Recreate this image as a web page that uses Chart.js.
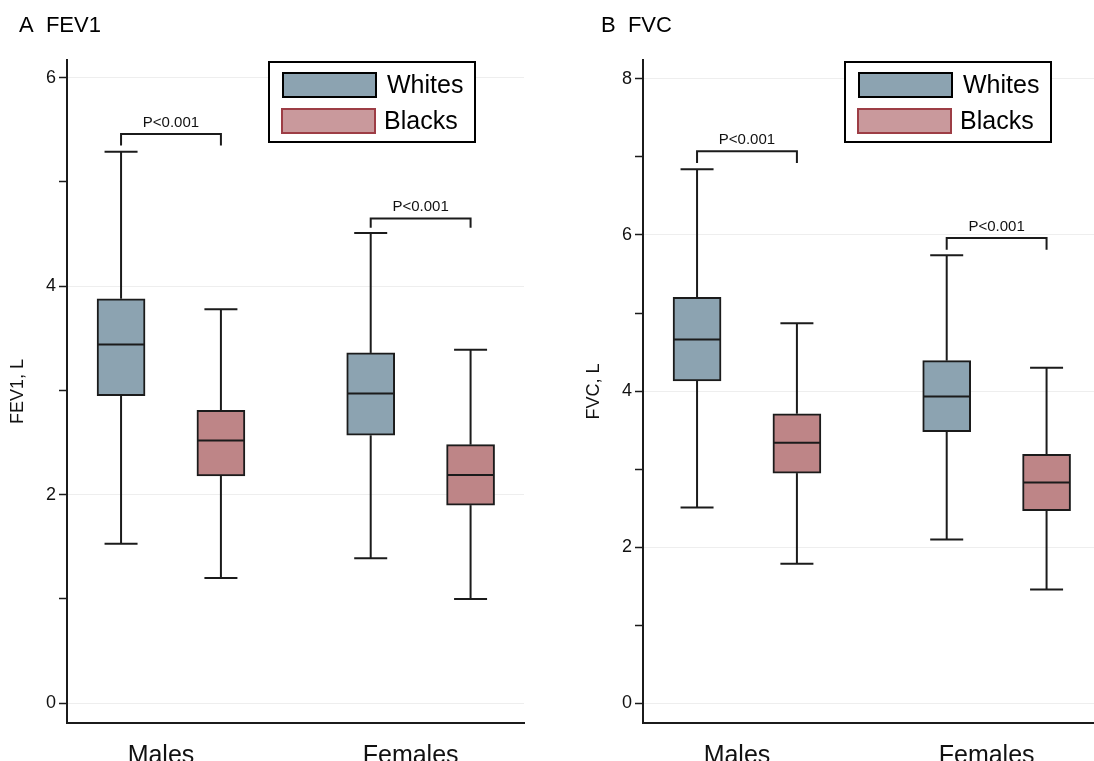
<!DOCTYPE html>
<html>
<head>
<meta charset="utf-8">
<script src="https://cdn.jsdelivr.net/npm/chart.js@4.4.1/dist/chart.umd.min.js"></script>
<style>
  html, body { margin: 0; padding: 0; background: #fff; }
  #wrap { position: relative; width: 1094px; height: 761px; overflow: hidden; }
  .panel { position: absolute; top: 0; }
  #panelA { left: 0; }
  #panelB { left: 576px; }
</style>
</head>
<body>
<div id="wrap">
  <div class="panel" id="panelA"><canvas id="fev1Chart" width="547" height="761"></canvas></div>
  <div class="panel" id="panelB"><canvas id="fvcChart" width="518" height="761"></canvas></div>
</div>
<script>
// ==========================
// Data
// ==========================
const groups = ["Males", "Females"];
const seriesNames = ["Whites", "Blacks"];

// [lower whisker, Q1, median, Q3, upper whisker], one row per group
const fev1Whites = [[1.53, 2.95, 3.44, 3.88, 5.29], [1.39, 2.57, 2.97, 3.36, 4.51]];
const fev1Blacks = [[1.20, 2.18, 2.52, 2.81, 3.78], [1.00, 1.90, 2.19, 2.48, 3.39]];
const fvcWhites = [[2.51, 4.13, 4.66, 5.20, 6.84], [2.10, 3.48, 3.93, 4.39, 5.74]];
const fvcBlacks = [[1.79, 2.95, 3.34, 3.71, 4.87], [1.46, 2.47, 2.83, 3.19, 4.30]];

const fev1Ticks = [0, 1, 2, 3, 4, 5, 6];
const fvcTicks = [0, 1, 2, 3, 4, 5, 6, 7, 8];

// significance brackets per group: [bar height, leg end]
const fev1Brackets = [[5.46, 5.35], [4.65, 4.56]];
const fvcBrackets = [[7.07, 6.92], [5.96, 5.81]];
const pLabels = ["P<0.001", "P<0.001"];

// ==========================
// Styles
// ==========================
const ink = "#1b1b1b";
const whitesFill = "#8ca3b1";
const blacksFill = "#be8587";
const blacksLegendFill = "#c9999c";
const blacksLegendBorder = "#9d3d45";
const fontFamily = "'Liberation Sans', Arial, Helvetica, sans-serif";

Chart.defaults.font.family = fontFamily;
Chart.defaults.color = "#111";

// ==========================
// Whiskers, medians, brackets, legend, panel title
// ==========================
const boxPlotExtras = {
  id: "boxPlotExtras",
  afterDatasetsDraw(chart, args, opts) {
    const { ctx, chartArea } = chart;
    const y = chart.scales.y;
    const line = (x1, y1, x2, y2) => {
      ctx.beginPath();
      ctx.moveTo(x1, y1);
      ctx.lineTo(x2, y2);
      ctx.stroke();
    };

    ctx.save();
    ctx.strokeStyle = ink;
    ctx.lineWidth = 2;

    // whiskers + medians
    opts.summaries.forEach((rows, di) => {
      const meta = chart.getDatasetMeta(di);
      rows.forEach((s, i) => {
        const bar = meta.data[i];
        const cx = bar.x;
        const half = bar.width / 2;
        const [lo, q1, med, q3, hi] = s.map(v => y.getPixelForValue(v));
        line(cx, q3, cx, hi);
        line(cx, q1, cx, lo);
        line(cx - 16.5, hi, cx + 16.5, hi);
        line(cx - 16.5, lo, cx + 16.5, lo);
        line(cx - half + 1, med, cx + half - 1, med);
      });
    });

    // brackets
    ctx.font = "15px " + fontFamily;
    ctx.fillStyle = "#111";
    ctx.textAlign = "center";
    ctx.textBaseline = "alphabetic";
    opts.brackets.forEach((b, i) => {
      const x1 = chart.getDatasetMeta(0).data[i].x;
      const x2 = chart.getDatasetMeta(1).data[i].x;
      const top = y.getPixelForValue(b[0]);
      const leg = y.getPixelForValue(b[1]);
      ctx.beginPath();
      ctx.moveTo(x1, leg);
      ctx.lineTo(x1, top);
      ctx.lineTo(x2, top);
      ctx.lineTo(x2, leg);
      ctx.stroke();
      ctx.fillText(pLabels[i], (x1 + x2) / 2, top - 7);
    });

    // legend box
    const lx = chartArea.left + 202;
    const ly = 62;
    ctx.lineWidth = 2;
    ctx.strokeStyle = "#000";
    ctx.fillStyle = "#fff";
    ctx.fillRect(lx, ly, 206, 80);
    ctx.strokeRect(lx, ly, 206, 80);

    ctx.fillStyle = whitesFill;
    ctx.fillRect(lx + 14, ly + 11, 93, 24);
    ctx.strokeStyle = "#000";
    ctx.strokeRect(lx + 14, ly + 11, 93, 24);

    ctx.fillStyle = blacksLegendFill;
    ctx.fillRect(lx + 13, ly + 47, 93, 24);
    ctx.strokeStyle = blacksLegendBorder;
    ctx.strokeRect(lx + 13, ly + 47, 93, 24);

    ctx.font = "25px " + fontFamily;
    ctx.fillStyle = "#000";
    ctx.textAlign = "left";
    ctx.fillText(seriesNames[0], lx + 118, ly + 31);
    ctx.fillText(seriesNames[1], lx + 115, ly + 66.5);

    // panel title
    ctx.font = "22px " + fontFamily;
    ctx.fillText(opts.title, opts.titleX, 32);

    ctx.restore();
  }
};

// ==========================
// Panel builder
// ==========================
function makePanel(canvasId, cfg) {
  const ctx = document.getElementById(canvasId).getContext("2d");
  return new Chart(ctx, {
    type: "bar",
    data: {
      datasets: [
        {
          label: seriesNames[0],
          data: cfg.whites.map((s, i) => ({ x: i - 0.2, y: [s[1], s[3]] })),
          backgroundColor: whitesFill,
          borderColor: ink,
          borderWidth: 2,
          borderSkipped: false,
          barThickness: 48,
          grouped: false
        },
        {
          label: seriesNames[1],
          data: cfg.blacks.map((s, i) => ({ x: i + 0.2, y: [s[1], s[3]] })),
          backgroundColor: blacksFill,
          borderColor: ink,
          borderWidth: 2,
          borderSkipped: false,
          barThickness: 48,
          grouped: false
        }
      ]
    },
    options: {
      responsive: false,
      animation: false,
      events: [],
      layout: { padding: { left: 0, top: 60, right: cfg.padRight, bottom: 0 } },
      plugins: {
        legend: { display: false },
        tooltip: { enabled: false },
        boxPlotExtras: {
          summaries: [cfg.whites, cfg.blacks],
          brackets: cfg.brackets,
          title: cfg.title,
          titleX: cfg.titleX
        }
      },
      scales: {
        x: {
          type: "linear",
          offset: false,
          bounds: "data",
          min: -0.4165,
          max: cfg.xMax,
          afterBuildTicks: s => { s.ticks = groups.map((g, i) => ({ value: i })); },
          afterFit: s => { s.height = 38; },
          grid: { display: false, offset: false },
          border: { color: ink, width: 2 },
          ticks: {
            autoSkip: false,
            maxRotation: 0,
            padding: 10,
            labelOffset: -10,
            font: { size: 25 },
            color: "#111",
            callback: (v, i) => groups[i]
          }
        },
        y: {
          min: cfg.yMin,
          max: cfg.yMax,
          afterBuildTicks: s => { s.ticks = cfg.ticks.map(v => ({ value: v })); },
          afterFit: s => { s.width = 67; },
          grid: {
            color: c => (c.tick && c.tick.value % 2 === 0) ? "#eeeeee" : "rgba(0,0,0,0)",
            lineWidth: 1,
            tickColor: ink,
            tickLength: 8,
            tickWidth: 1.5
          },
          border: { color: ink, width: 2 },
          ticks: {
            autoSkip: false,
            padding: 3,
            font: { size: 18 },
            color: "#111",
            callback: v => (v % 2 === 0 ? v : "")
          },
          title: {
            display: true,
            text: cfg.axisTitle,
            font: { size: 18 },
            color: "#111",
            padding: { top: 7, bottom: 0 }
          }
        }
      }
    },
    plugins: [boxPlotExtras]
  });
}

makePanel("fev1Chart", {
  title: "A  FEV1", titleX: 19, axisTitle: "FEV1, L",
  whites: fev1Whites, blacks: fev1Blacks, brackets: fev1Brackets,
  ticks: fev1Ticks, yMin: -0.19, yMax: 6.17, xMax: 1.414, padRight: 23
});

makePanel("fvcChart", {
  title: "B  FVC", titleX: 25, axisTitle: "FVC, L",
  whites: fvcWhites, blacks: fvcBlacks, brackets: fvcBrackets,
  ticks: fvcTicks, yMin: -0.25, yMax: 8.24, xMax: 1.39, padRight: 0
});
</script>
</body>
</html>
